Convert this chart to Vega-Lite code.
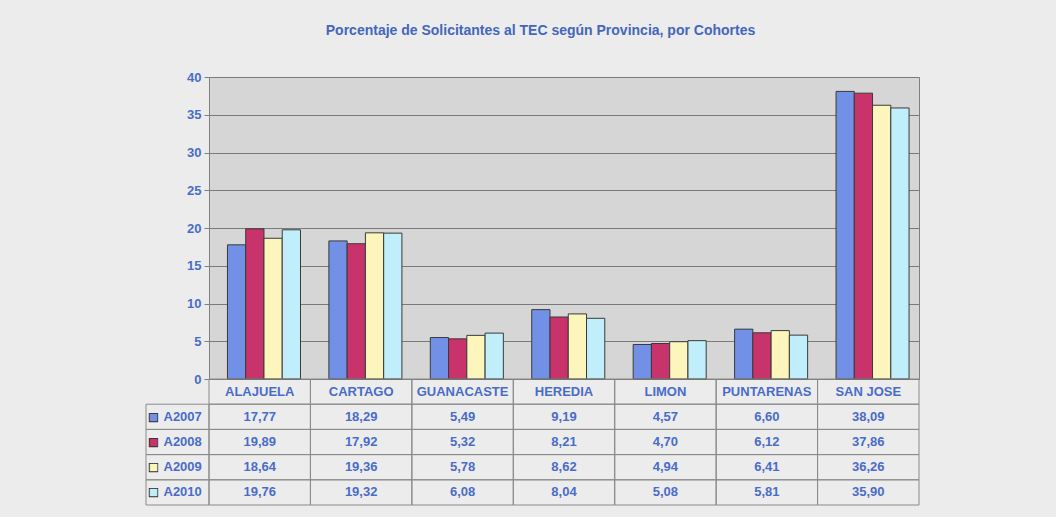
{
  "$schema": "https://vega.github.io/schema/vega-lite/v6.json",
  "background": "#ececec",
  "padding": {"left": 145, "top": 23, "right": 138, "bottom": 12},
  "title": {"text": "Porcentaje de Solicitantes al TEC según Provincia, por Cohortes", "font": "Liberation Sans", "fontSize": 14, "fontWeight": "bold", "color": "#4466bb", "anchor": "middle", "offset": 33, "dx": 8},
  "datasets": {
    "vals": [
      {"prov": "ALAJUELA", "serie": "A2007", "valor": 17.77},
      {"prov": "ALAJUELA", "serie": "A2008", "valor": 19.89},
      {"prov": "ALAJUELA", "serie": "A2009", "valor": 18.64},
      {"prov": "ALAJUELA", "serie": "A2010", "valor": 19.76},
      {"prov": "CARTAGO", "serie": "A2007", "valor": 18.29},
      {"prov": "CARTAGO", "serie": "A2008", "valor": 17.92},
      {"prov": "CARTAGO", "serie": "A2009", "valor": 19.36},
      {"prov": "CARTAGO", "serie": "A2010", "valor": 19.32},
      {"prov": "GUANACASTE", "serie": "A2007", "valor": 5.49},
      {"prov": "GUANACASTE", "serie": "A2008", "valor": 5.32},
      {"prov": "GUANACASTE", "serie": "A2009", "valor": 5.78},
      {"prov": "GUANACASTE", "serie": "A2010", "valor": 6.08},
      {"prov": "HEREDIA", "serie": "A2007", "valor": 9.19},
      {"prov": "HEREDIA", "serie": "A2008", "valor": 8.21},
      {"prov": "HEREDIA", "serie": "A2009", "valor": 8.62},
      {"prov": "HEREDIA", "serie": "A2010", "valor": 8.04},
      {"prov": "LIMON", "serie": "A2007", "valor": 4.57},
      {"prov": "LIMON", "serie": "A2008", "valor": 4.70},
      {"prov": "LIMON", "serie": "A2009", "valor": 4.94},
      {"prov": "LIMON", "serie": "A2010", "valor": 5.08},
      {"prov": "PUNTARENAS", "serie": "A2007", "valor": 6.60},
      {"prov": "PUNTARENAS", "serie": "A2008", "valor": 6.12},
      {"prov": "PUNTARENAS", "serie": "A2009", "valor": 6.41},
      {"prov": "PUNTARENAS", "serie": "A2010", "valor": 5.81},
      {"prov": "SAN JOSE", "serie": "A2007", "valor": 38.09},
      {"prov": "SAN JOSE", "serie": "A2008", "valor": 37.86},
      {"prov": "SAN JOSE", "serie": "A2009", "valor": 36.26},
      {"prov": "SAN JOSE", "serie": "A2010", "valor": 35.90}
    ]
  },
  "columns": 2,
  "spacing": 0,
  "bounds": "flush",
  "resolve": {"scale": {"x": "independent", "y": "independent", "color": "shared"}},
  "concat": [
    {
      "width": 63, "height": 302,
      "data": {"values": [{"t": ""}]},
      "mark": {"type": "text"},
      "encoding": {"text": {"field": "t"}}
    },
    {
      "width": 710, "height": 302,
      "data": {"name": "vals"},
      "view": {"fill": "#d6d6d6", "stroke": "#7f7f7f"},
      "mark": {"type": "bar", "stroke": "#3a3a3a", "strokeWidth": 1},
      "encoding": {
        "x": {"field": "prov", "type": "nominal", "sort": ["ALAJUELA", "CARTAGO", "GUANACASTE", "HEREDIA", "LIMON", "PUNTARENAS", "SAN JOSE"], "scale": {"paddingInner": 0.28, "paddingOuter": 0.14, "align": 0.65}, "axis": null},
        "xOffset": {"field": "serie", "type": "nominal", "sort": ["A2007", "A2008", "A2009", "A2010"]},
        "y": {"field": "valor", "type": "quantitative", "scale": {"domain": [0, 40]},
          "axis": {"values": [0, 5, 10, 15, 20, 25, 30, 35, 40], "title": null, "grid": true, "gridColor": "#7a7a7a", "domainColor": "#7f7f7f", "tickColor": "#7f7f7f", "tickSize": 5, "labelColor": "#4a6cc8", "labelFont": "Liberation Sans", "labelFontSize": 13, "labelFontWeight": "bold", "labelPadding": 3}},
        "color": {"field": "serie", "type": "nominal", "scale": {"domain": ["A2007", "A2008", "A2009", "A2010"], "range": ["#7290e6", "#c8336c", "#fcf6bd", "#c0eefa"]}, "legend": null}
      }
    },
    {
      "width": 63, "height": 126,
      "data": {"name": "vals"},
      "transform": [{"filter": "datum.prov === 'ALAJUELA'"}],
      "encoding": {
        "x": {"datum": "L", "type": "nominal", "scale": {"paddingInner": 0, "paddingOuter": 0}, "axis": null},
        "y": {"field": "serie", "type": "nominal", "scale": {"domain": ["H", "A2007", "A2008", "A2009", "A2010"], "paddingInner": 0, "paddingOuter": 0}, "axis": null}
      },
      "layer": [
        {"mark": {"type": "rect", "fill": null, "stroke": "#8a8a8a", "strokeWidth": 1}},
        {"mark": {"type": "text", "text": "■", "align": "center", "baseline": "middle", "dx": -24, "font": "DejaVu Sans", "fontSize": 12, "color": "#333333"}},
        {"mark": {"type": "text", "text": "■", "align": "center", "baseline": "middle", "dx": -24, "font": "DejaVu Sans", "fontSize": 9.5},
          "encoding": {"color": {"field": "serie", "type": "nominal", "legend": null}}},
        {"mark": {"type": "text", "align": "left", "baseline": "middle", "dx": -14, "font": "Liberation Sans", "fontSize": 13, "fontWeight": "bold", "color": "#4a6cc8"},
          "encoding": {"text": {"field": "serie"}}}
      ]
    },
    {
      "width": 710, "height": 126,
      "data": {"name": "vals"},
      "encoding": {
        "x": {"field": "prov", "type": "nominal", "sort": ["ALAJUELA", "CARTAGO", "GUANACASTE", "HEREDIA", "LIMON", "PUNTARENAS", "SAN JOSE"], "scale": {"paddingInner": 0, "paddingOuter": 0}, "axis": null}
      },
      "layer": [
        {"mark": {"type": "rect", "fill": null, "stroke": "#8a8a8a", "strokeWidth": 1},
          "encoding": {"y": {"field": "serie", "type": "nominal", "scale": {"domain": ["H", "A2007", "A2008", "A2009", "A2010"], "paddingInner": 0, "paddingOuter": 0}, "axis": null}}},
        {"transform": [{"filter": "datum.serie === 'A2007'"}],
          "mark": {"type": "rect", "fill": null, "stroke": "#8a8a8a", "strokeWidth": 1},
          "encoding": {"y": {"datum": "H", "type": "nominal"}}},
        {"mark": {"type": "text", "baseline": "middle", "font": "Liberation Sans", "fontSize": 13, "fontWeight": "bold", "color": "#4a6cc8"},
          "encoding": {"y": {"field": "serie", "type": "nominal"}, "text": {"field": "valor", "type": "quantitative", "format": ".2f"}}},
        {"transform": [{"filter": "datum.serie === 'A2007'"}],
          "mark": {"type": "text", "baseline": "middle", "font": "Liberation Sans", "fontSize": 13, "fontWeight": "bold", "color": "#4a6cc8"},
          "encoding": {"y": {"datum": "H", "type": "nominal"}, "text": {"field": "prov"}}}
      ]
    }
  ],
  "config": {
    "locale": {"number": {"decimal": ",", "thousands": ".", "grouping": [3], "currency": ["", ""]}},
    "view": {"stroke": null},
    "font": "Liberation Sans"
  }
}
